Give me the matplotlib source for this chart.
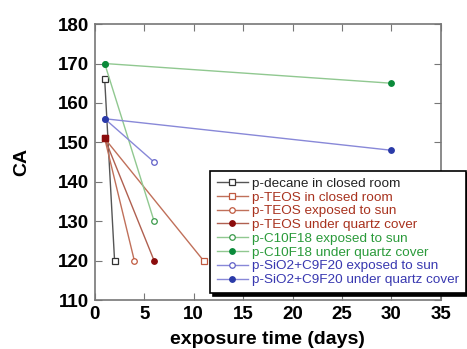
import matplotlib
matplotlib.use("Agg")
import matplotlib.pyplot as plt

plt.rcParams['font.family'] = ['Liberation Sans', 'DejaVu Sans']

# Series: x = exposure time (days), y = CA
decane_closed_x = [1, 2]
decane_closed_y = [166, 120]
teos_closed_x = [1, 11]
teos_closed_y = [151, 120]
teos_sun_x = [1, 4]
teos_sun_y = [151, 120]
teos_quartz_x = [1, 6]
teos_quartz_y = [151, 120]
c10f18_sun_x = [1, 6]
c10f18_sun_y = [170, 130]
c10f18_quartz_x = [1, 30]
c10f18_quartz_y = [170, 165]
sio2_sun_x = [1, 6]
sio2_sun_y = [156, 145]
sio2_quartz_x = [1, 30]
sio2_quartz_y = [156, 148]

labels = ["p-decane in closed room", "p-TEOS in closed room",
          "p-TEOS exposed to sun", "p-TEOS under quartz cover",
          "p-C10F18 exposed to sun", "p-C10F18 under quartz cover",
          "p-SiO2+C9F20 exposed to sun", "p-SiO2+C9F20 under quartz cover"]

fig = plt.figure(figsize=(4.67, 3.49), dpi=100)
ax = fig.add_axes([0.203, 0.140, 0.741, 0.791])

# (x, y, line colour, marker, marker face, marker edge, text colour)
styles = [
    (decane_closed_x, decane_closed_y, "#555555", "s", "white", "#333333", "#222222"),
    (teos_closed_x, teos_closed_y, "#c0705a", "s", "white", "#c05a40", "#a8321e"),
    (teos_sun_x, teos_sun_y, "#c0705a", "o", "white", "#c05a40", "#a8321e"),
    (teos_quartz_x, teos_quartz_y, "#b06050", "o", "#8b0c0c", "#8b0c0c", "#a8321e"),
    (c10f18_sun_x, c10f18_sun_y, "#90c890", "o", "white", "#3a9a4a", "#2a9a3a"),
    (c10f18_quartz_x, c10f18_quartz_y, "#90c890", "o", "#0a8a3a", "#0a8a3a", "#2a9a3a"),
    (sio2_sun_x, sio2_sun_y, "#8888d8", "o", "white", "#6060c8", "#3838b0"),
    (sio2_quartz_x, sio2_quartz_y, "#8888d8", "o", "#2a3aa8", "#2a3aa8", "#3838b0"),
]

for (x, y, lc, m, mfc, mec, tc), lab in zip(styles, labels):
    ax.plot(x, y, color=lc, lw=1, marker=m, ms=4.3 if m == "s" else 4,
            mfc=mfc, mec=mec, mew=0.9, label=lab)

# marker at (1,151) shows as a filled dark-red square
ax.plot([teos_quartz_x[0]], [teos_quartz_y[0]], marker="s", ms=4.3,
        color="#8b0c0c", ls="none")

ax.set_xlim(0, 35)
ax.set_ylim(110, 180)
ax.set_xticks(range(0, 36, 5))
ax.set_yticks(range(110, 181, 10))
ax.tick_params(direction="in", top=True, right=True, length=5,
               color="#777777", labelsize=13.5, pad=4)
for lbl in ax.get_xticklabels() + ax.get_yticklabels():
    lbl.set_fontweight("bold")
for sp in ax.spines.values():
    sp.set_color("#777777")
    sp.set_linewidth(1.2)

ax.set_xlabel("exposure time (days)", fontsize=14, fontweight="bold",
              labelpad=6)
ax.set_ylabel("CA", fontsize=14, fontweight="bold", labelpad=20)

leg = ax.legend(loc="lower left", bbox_to_anchor=(0.4497, 0.1605),
                bbox_transform=fig.transFigure, fontsize=9.7,
                frameon=True, fancybox=False,
                shadow={"color": "black", "alpha": 1},
                handlelength=2.3, handletextpad=0.35, labelspacing=0.1,
                borderpad=0.5, borderaxespad=0)
leg.get_frame().set_edgecolor("black")
leg.get_frame().set_linewidth(1.2)
for txt, st in zip(leg.get_texts(), styles):
    txt.set_color(st[6])

fig.savefig("out.png", dpi=100)
